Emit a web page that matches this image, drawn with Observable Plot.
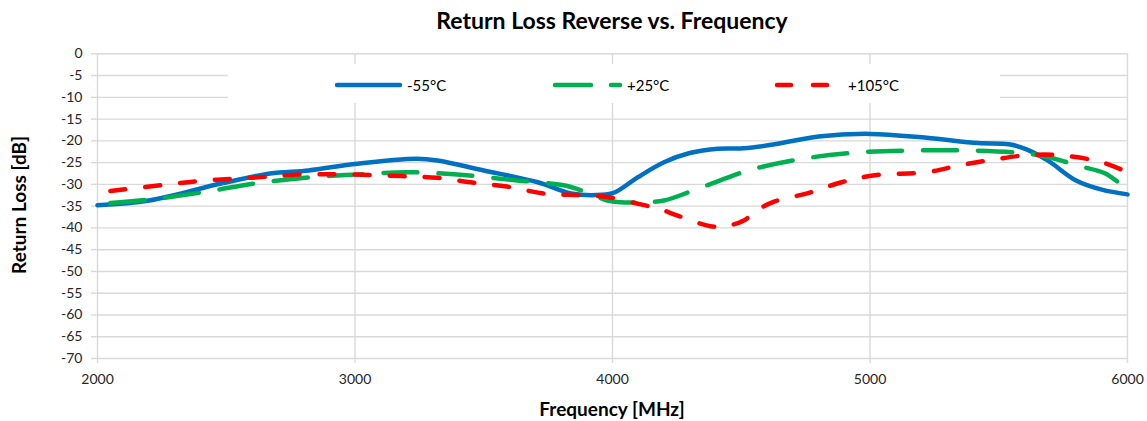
<!DOCTYPE html>
<html><head><meta charset="utf-8">
<script src="https://cdn.jsdelivr.net/npm/d3@7"></script>
<script src="https://cdn.jsdelivr.net/npm/@observablehq/plot@0.6"></script>
<style>
body{margin:0;background:#fff;font-family:Lato,"Open Sans",sans-serif;}
#wrap{position:relative;width:1147px;height:421px;overflow:hidden;background:#fff}
#chart{position:absolute;left:0;top:0}
.lbl{position:absolute;font-weight:bold;color:#000;white-space:nowrap;line-height:1.2}
#title{left:97px;width:1030px;top:6px;text-align:center;font-size:23px;line-height:28px}
#xlab{left:97px;width:1030px;top:397px;text-align:center;font-size:19px;line-height:23px}
#ylab{left:18px;top:205px;font-size:19px;line-height:23px;transform:translate(-50%,-50%) rotate(-90deg)}
#legend{position:absolute;left:228px;top:64px;width:772px;height:39px;background:#fff}
.ltxt{position:absolute;font-size:15px;color:#000;top:74px;line-height:22px}
#legsvg{position:absolute;left:0;top:0}
</style>
</head><body>
<div id="wrap">
  <div id="chart"></div>
  <div id="legend"></div>
  <svg id="legsvg" width="1147" height="421"></svg>
  <div class="ltxt" style="left:407px">-55°C</div>
  <div class="ltxt" style="left:627px">+25°C</div>
  <div class="ltxt" style="left:848px">+105°C</div>
  <div class="lbl" id="title">Return Loss Reverse vs. Frequency</div>
  <div class="lbl" id="xlab">Frequency [MHz]</div>
  <div class="lbl" id="ylab">Return Loss [dB]</div>
</div>
<script>
// ---- data ----
const seriesNames = ["-55°C", "+25°C", "+105°C"];
const seriesColors = ["#0070C0", "#00B050", "#FF0000"];

const freqM55 = [2000,2200,2480,2670,2820,3000,3240,3320,3500,3710,3840,3960,4010,4100,4200,4300,4410,4510,4630,4800,5000,5220,5420,5540,5610,5690,5800,5900,6000];
const rlM55   = [-34.8,-33.7,-29.8,-27.5,-26.8,-25.3,-24.1,-24.5,-26.8,-29.5,-32.1,-32.4,-31.8,-28.3,-24.9,-22.8,-21.8,-21.7,-20.8,-19.0,-18.4,-19.3,-20.5,-20.8,-22.0,-24.5,-29.1,-31.2,-32.3];

const freqP25 = [2050,2200,2410,2620,2840,3020,3200,3410,3630,3810,3890,3980,4030,4120,4200,4340,4540,4750,4970,5170,5380,5590,5690,5820,5910,6000];
const rlP25   = [-34.3,-33.5,-31.8,-29.7,-28.3,-27.7,-27.2,-27.8,-29.1,-30.2,-31.6,-33.7,-34.1,-34.1,-33.7,-30.8,-26.6,-24.0,-22.6,-22.2,-22.2,-22.8,-23.7,-25.9,-27.4,-31.2];

const freqP105 = [2050,2260,2400,2530,2670,2800,2950,3180,3320,3460,3590,3735,3880,3980,4110,4180,4250,4380,4440,4510,4560,4630,4760,4890,5020,5220,5350,5480,5610,5740,5900,6000];
const rlP105   = [-31.5,-30.1,-29.2,-28.7,-28.2,-27.7,-27.7,-28.1,-28.5,-29.6,-30.5,-32.1,-32.5,-32.9,-34.6,-35.6,-37.1,-39.6,-39.6,-38.3,-36.0,-33.9,-32.0,-29.5,-27.9,-27.2,-25.6,-24.3,-23.3,-23.3,-24.9,-27.2];

const xTicks = [2000,3000,4000,5000,6000];
const yTicks = [0,-5,-10,-15,-20,-25,-30,-35,-40,-45,-50,-55,-60,-65,-70];

// ---- build table ----
const toRows = (fs, vs, s) => fs.map((f, i) => ({f, v: vs[i], s}));
const rowsA = toRows(freqM55, rlM55, seriesNames[0]);
const rowsB = toRows(freqP25, rlP25, seriesNames[1]);
const rowsC = toRows(freqP105, rlP105, seriesNames[2]);

const grid = "#d9d9d9";
const chart = Plot.plot({
  width: 1147,
  height: 421,
  marginTop: 53.3,
  marginBottom: 63,
  marginLeft: 97,
  marginRight: 20,
  style: {fontFamily: "Lato, 'Open Sans', sans-serif", fontSize: "14px", color: "#262626", background: "#fff"},
  x: {domain: [2000, 6000]},
  y: {domain: [-70, 0]},
  marks: [
    Plot.gridY(yTicks, {stroke: grid, strokeOpacity: 1, strokeWidth: 1.4}),
    Plot.gridX(xTicks, {stroke: grid, strokeOpacity: 1, strokeWidth: 1.4}),
    Plot.axisY(yTicks, {tickSize: 6, tickPadding: 9, stroke: grid, strokeOpacity: 1, strokeWidth: 1.4, label: null, tickFormat: d => String(d), fill: "#262626"}),
    Plot.axisX(xTicks, {tickSize: 5, tickPadding: 11, stroke: grid, strokeOpacity: 1, strokeWidth: 1.4, label: null, tickFormat: d3.format("d"), fill: "#262626"}),
    Plot.line(rowsA, {x: "f", y: "v", stroke: seriesColors[0], strokeWidth: 4.5, curve: "catmull-rom", strokeLinecap: "round"}),
    Plot.line(rowsB, {x: "f", y: "v", stroke: seriesColors[1], strokeWidth: 4.5, curve: "catmull-rom", strokeLinecap: "round", strokeDasharray: "34 21"}),
    Plot.line(rowsC, {x: "f", y: "v", stroke: seriesColors[2], strokeWidth: 4.5, curve: "catmull-rom", strokeLinecap: "round", strokeDasharray: "15 20"})
  ]
});
document.getElementById("chart").appendChild(chart);

// ---- legend swatches ----
const ls = d3.select("#legsvg");
const sw = [
  {x1: 337, x2: 400, dash: null},
  {x1: 555, x2: 620, dash: "36 20"},
  {x1: 777, x2: 827, dash: "14 22"}
];
sw.forEach((d, i) => {
  ls.append("line").attr("x1", d.x1).attr("x2", d.x2).attr("y1", 85).attr("y2", 85)
    .attr("stroke", seriesColors[i]).attr("stroke-width", 4.5).attr("stroke-linecap", "round")
    .attr("stroke-dasharray", d.dash);
});
</script>
</body></html>
